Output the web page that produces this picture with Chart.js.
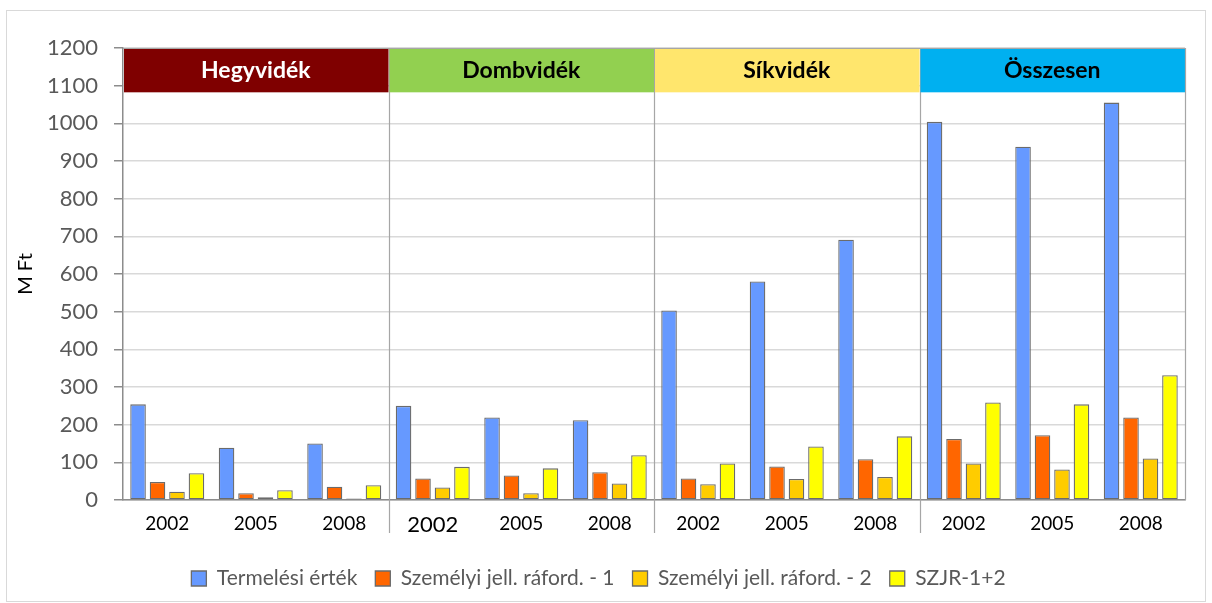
<!DOCTYPE html>
<html>
<head>
<meta charset="utf-8">
<script src="https://cdn.jsdelivr.net/npm/chart.js@4"></script>
<style>
  html, body { margin: 0; padding: 0; background: #fff; }
  #wrap { width: 1212px; height: 603px; }
</style>
</head>
<body>
<div id="wrap"><canvas id="myChart" width="1212" height="603"></canvas></div>
<script>
// categories: 4 regions x 3 years
const years = ["2002", "2005", "2008", "2002", "2005", "2008", "2002", "2005", "2008", "2002", "2005", "2008"];
const regions = ["Hegyvidék", "Dombvidék", "Síkvidék", "Összesen"];
const regionColors = ["#7f0000", "#92d050", "#ffe66d", "#00b0f0"];
const regionTextColors = ["#ffffff", "#000000", "#000000", "#000000"];
const bandFrom = 1085;
const yTicks = [0, 100, 200, 300, 400, 500, 600, 700, 800, 900, 1000, 1100, 1200];

// series (M Ft)
const termelesi = [254, 139, 150, 250, 219, 212, 503, 580, 691, 1004, 938, 1055];
const szemelyi1 = [48, 18, 35, 57, 65, 74, 57, 89, 108, 162, 172, 219];
const szemelyi2 = [22, 7, 4, 33, 18, 44, 42, 56, 61, 97, 81, 110];
const szjr = [71, 26, 39, 88, 84, 119, 97, 142, 169, 259, 254, 331];

const fontFam = "Lato, 'Open Sans', sans-serif";

// header bands + group separators + outer frame
const decorations = {
  id: "decorations",
  beforeDraw(chart) {
    const ctx = chart.ctx;
    ctx.save();
    ctx.strokeStyle = "#d9d9d9";
    ctx.lineWidth = 1;
    ctx.strokeRect(6.5, 10.5, 1199, 591);
    ctx.restore();
  },
  afterDatasetsDraw(chart) {
    const ctx = chart.ctx;
    const x = chart.scales.x;
    const y = chart.scales.y;
    const area = chart.chartArea;
    ctx.save();
    // separators between regions
    ctx.strokeStyle = "#a6a6a6";
    ctx.lineWidth = 1.2;
    for (let g = 1; g < regions.length; g++) {
      const i = g * 3;
      const px = Math.round((x.getPixelForValue(i - 1) + x.getPixelForValue(i)) / 2) + 0.5;
      ctx.beginPath();
      ctx.moveTo(px, area.top);
      ctx.lineTo(px, area.bottom + 33);
      ctx.stroke();
    }
    // header bands
    const yTop = y.getPixelForValue(1200);
    const yBot = y.getPixelForValue(bandFrom);
    for (let g = 0; g < regions.length; g++) {
      const i0 = g * 3;
      const left = g === 0 ? area.left : (x.getPixelForValue(i0 - 1) + x.getPixelForValue(i0)) / 2;
      const right = g === regions.length - 1 ? area.right : (x.getPixelForValue(i0 + 2) + x.getPixelForValue(i0 + 3)) / 2;
      ctx.fillStyle = regionColors[g];
      ctx.fillRect(left + 1, yTop + 1, right - left - 1, yBot - yTop);
      ctx.fillStyle = regionTextColors[g];
      ctx.font = "bold 23px " + fontFam;
      ctx.textAlign = "center";
      ctx.textBaseline = "middle";
      ctx.fillText(regions[g], (left + right) / 2, (yTop + yBot) / 2 + 1);
    }
    // plot frame
    ctx.strokeStyle = "#a6a6a6";
    ctx.lineWidth = 1.2;
    ctx.beginPath();
    ctx.moveTo(area.left, area.top + 0.5);
    ctx.lineTo(area.right + 0.5, area.top + 0.5);
    ctx.lineTo(area.right + 0.5, area.bottom);
    ctx.stroke();
    ctx.restore();
  }
};

const data = {
  labels: years,
  datasets: [
    { label: "Termelési érték", data: termelesi, backgroundColor: "#6699ff" },
    { label: "Személyi jell. ráford. - 1", data: szemelyi1, backgroundColor: "#ff6600" },
    { label: "Személyi jell. ráford. - 2", data: szemelyi2, backgroundColor: "#ffcc00" },
    { label: "SZJR-1+2", data: szjr, backgroundColor: "#ffff00" }
  ]
};
data.datasets.forEach((ds) => {
  ds.borderColor = "#6b6b6b";
  ds.borderWidth = 1.3;
  ds.borderSkipped = false;
  ds.categoryPercentage = 0.88;
  ds.barPercentage = 0.8;
});

const config = {
  type: "bar",
  data: data,
  options: {
    responsive: false,
    animation: false,
    layout: { padding: { top: 48, right: 27, bottom: 4, left: 12 } },
    plugins: {
      tooltip: { enabled: false },
      legend: {
        position: "bottom",
        labels: {
          font: { family: fontFam, size: 21 },
          color: "#595959",
          boxWidth: 15,
          boxHeight: 15,
          padding: 18
        }
      }
    },
    scales: {
      x: {
        grid: { display: false, drawTicks: false },
        border: { color: "#8c8c8c", width: 1.5 },
        ticks: {
          color: "#000",
          padding: 12,
          maxRotation: 0,
          font: (c) => ({ family: fontFam, size: c.index === 3 ? 22 : 19 })
        },
        afterFit(scale) { scale.height = 50; }
      },
      y: {
        min: 0,
        max: 1200,
        afterBuildTicks(scale) { scale.ticks = yTicks.map((v) => ({ value: v })); },
        grid: { color: "#d9d9d9", lineWidth: 1.5, tickLength: 9, tickColor: "#8c8c8c" },
        border: { color: "#8c8c8c", width: 1.5 },
        ticks: {
          color: "#595959",
          padding: 16,
          font: { family: fontFam, size: 22 },
          callback: (v) => String(v)
        },
        title: { display: true, text: "M Ft", color: "#000", font: { family: fontFam, size: 20 }, padding: 2 },
        afterFit(scale) { scale.width = 111; }
      }
    }
  },
  plugins: [decorations]
};

let myChart = new Chart(document.getElementById("myChart"), config);
</script>
</body>
</html>
